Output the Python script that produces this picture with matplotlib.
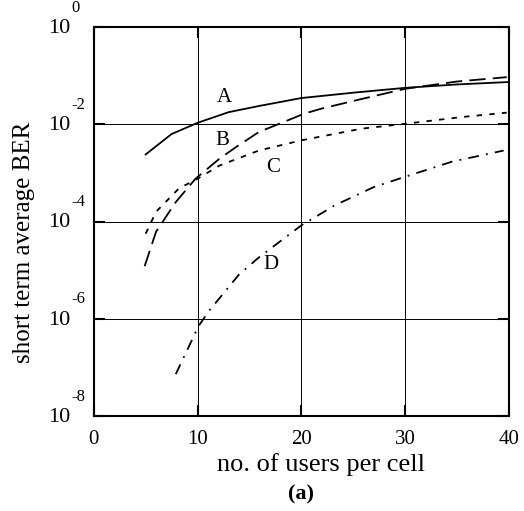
import numpy as np
import matplotlib
matplotlib.use("Agg")
import matplotlib.pyplot as plt
import matplotlib.transforms as mtransforms

plt.rcParams['font.family'] = ['Liberation Serif', 'DejaVu Serif']

# curves (x = users per cell, value = log10 BER)
xa = [5, 7.5, 10, 13, 16, 20, 25, 30, 35, 40]
log_a = [-2.62, -2.2, -1.97, -1.75, -1.62, -1.46, -1.35, -1.25, -1.18, -1.13]

xb = [4.9, 6.0, 7.9, 9.8, 12.1, 13.7, 15.9, 20.3, 21.9, 25.8, 30, 35, 39.8]
log_b = [-4.92, -4.21, -3.6, -3.12, -2.71, -2.47, -2.16, -1.78, -1.68, -1.48, -1.27, -1.12, -1.03]

xc = [5.0, 6.0, 8.2, 10, 12.1, 15.9, 20, 25.8, 30, 35.5, 39.8]
log_c = [-4.25, -3.8, -3.32, -3.12, -2.85, -2.54, -2.33, -2.09, -1.99, -1.85, -1.76]

xd = [7.9, 10.1, 11.1, 14, 15.9, 20, 23.2, 27, 30, 34.5, 39.5]
log_d = [-7.14, -6.15, -5.84, -5.09, -4.74, -4.08, -3.67, -3.29, -3.08, -2.77, -2.54]

labels = ['A', 'B', 'C', 'D']
label_pos = [(12.6, -1.45), (12.4, -2.33), (17.3, -2.88), (17.1, -4.88)]

yticks = [1e-8, 1e-6, 1e-4, 1e-2, 1e0]
ytick_exps = ['-8', '-6', '-4', '-2', '0']
xticks = [0, 10, 20, 30, 40]

fig = plt.figure(figsize=(5.24, 5.11), dpi=100)
ax = fig.add_axes([0.179, 0.186, 0.792, 0.761])

ax.plot(xa, 10 ** np.array(log_a), color='black', lw=1.3, ls='-')
ax.plot(xb, 10 ** np.array(log_b), color='black', lw=1.3, ls=(0, (9, 4)))
ax.plot(xc, 10 ** np.array(log_c), color='black', lw=1.3, ls=(0, (3, 4)))
ax.plot(xd, 10 ** np.array(log_d), color='black', lw=1.3, ls=(0, (6, 4, 1, 4)))

for lab, (lx, ly) in zip(labels, label_pos):
    ax.text(lx, 10 ** ly, lab, fontsize=15, ha='center', va='center')

ax.set_yscale('log')
ax.set_xlim(0, 40)
ax.set_ylim(1e-8, 1e0)
ax.set_xticks(xticks)
ax.set_yticks(yticks)
ax.set_yticklabels([])
ax.minorticks_off()
ax.tick_params(which='major', direction='in', length=8, width=1.5,
               top=True, right=True, labelsize=15, pad=10)
ax.grid(True, color='black', lw=0.7)
for s in ax.spines.values():
    s.set_linewidth(1.5)

# y tick labels drawn as "10" with a raised exponent
trans = mtransforms.blended_transform_factory(ax.transAxes, ax.transData)
for yv, ex in zip(yticks, ytick_exps):
    ax.annotate('10', xy=(0, yv), xycoords=trans, xytext=(-17, -1),
                textcoords='offset points', ha='right', va='center',
                fontsize=16, annotation_clip=False)
    ax.annotate(ex, xy=(0, yv), xycoords=trans, xytext=(-16, 14),
                textcoords='offset points', ha='left', va='center',
                fontsize=12, annotation_clip=False)

fig.text(24 / 524, 1 - 242 / 511, 'short term average BER', fontsize=18,
         rotation=90, ha='center', va='center')
fig.text(321 / 524, 1 - 465 / 511, 'no. of users per cell', fontsize=19,
         ha='center', va='center')
fig.text(301 / 524, 1 - 494 / 511, '(a)', fontsize=16, fontweight='bold',
         ha='center', va='center')

fig.savefig('out.png', dpi=100)
